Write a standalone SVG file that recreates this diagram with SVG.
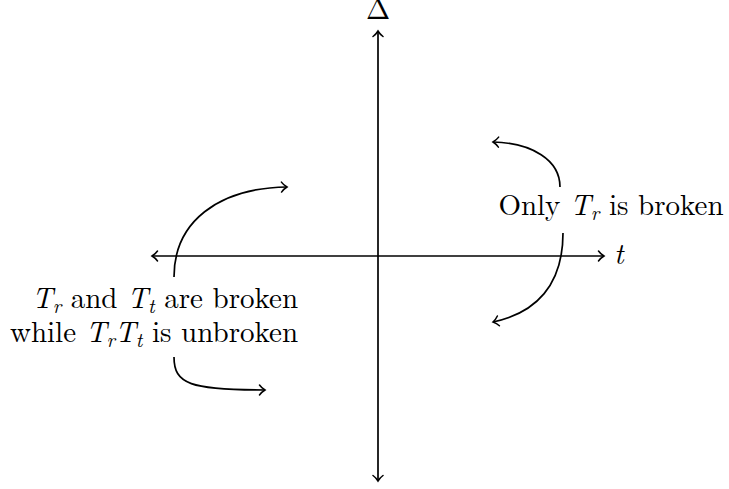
<svg xmlns="http://www.w3.org/2000/svg" width="729" height="489" viewBox="0 0 729 489">
<defs>
<style>
.ln{fill:none;stroke:#000;stroke-width:1.7}
.tx{font-family:"Latin Modern Roman","Liberation Serif","DejaVu Serif",serif;font-size:29px;fill:#000}
.it{font-style:italic}
.sb{font-style:italic;font-size:20px}
</style>
<marker id="ar" viewBox="-7 -6 9 12" markerWidth="9" markerHeight="12" refX="0" refY="0" orient="auto" markerUnits="userSpaceOnUse">
<path d="M-5.5,-5 C-3.5,-2.2 -1,-0.6 0,0 C-1,0.6 -3.5,2.2 -5.5,5" fill="none" stroke="#000" stroke-width="1.5" stroke-linecap="round"/>
</marker>
</defs>
<rect width="729" height="489" fill="#fff"/>
<g id="connectors">
<path class="ln" d="M378,256 L378,31" marker-end="url(#ar)"/>
<path class="ln" d="M378,256 L378,481" marker-end="url(#ar)"/>
<path class="ln" d="M378,256 L604,256" marker-end="url(#ar)"/>
<path class="ln" d="M378,256 L152,256" marker-end="url(#ar)"/>
<path class="ln" d="M560,187 C560,160 532,143 493,142" marker-end="url(#ar)"/>
<path class="ln" d="M563,233 C563,285 536,313 493,322" marker-end="url(#ar)"/>
<path class="ln" d="M174,277 C174,222 218,188 287,187" marker-end="url(#ar)"/>
<path class="ln" d="M174,357 C174,384 190,390 265,390" marker-end="url(#ar)"/>
</g>
<g id="label-delta"><text class="tx" x="378" y="19" text-anchor="middle" font-size="24">Δ</text></g>
<g id="label-t"><text class="tx it" x="614" y="264">t</text></g>
<g id="label-right"><text class="tx" x="611" y="215" text-anchor="middle">Only <tspan class="it">T</tspan><tspan class="sb" dy="5">r</tspan><tspan dy="-5"> is broken</tspan></text></g>
<g id="label-left">
<text class="tx" x="165" y="308" text-anchor="middle"><tspan class="it">T</tspan><tspan class="sb" dy="5">r</tspan><tspan dy="-5"> and </tspan><tspan class="it">T</tspan><tspan class="sb" dy="5">t</tspan><tspan dy="-5"> are broken</tspan></text>
<text class="tx" x="154" y="342" text-anchor="middle">while <tspan class="it">T</tspan><tspan class="sb" dy="5">r</tspan><tspan class="it" dy="-5">T</tspan><tspan class="sb" dy="5">t</tspan><tspan dy="-5"> is unbroken</tspan></text>
</g>
</svg>
